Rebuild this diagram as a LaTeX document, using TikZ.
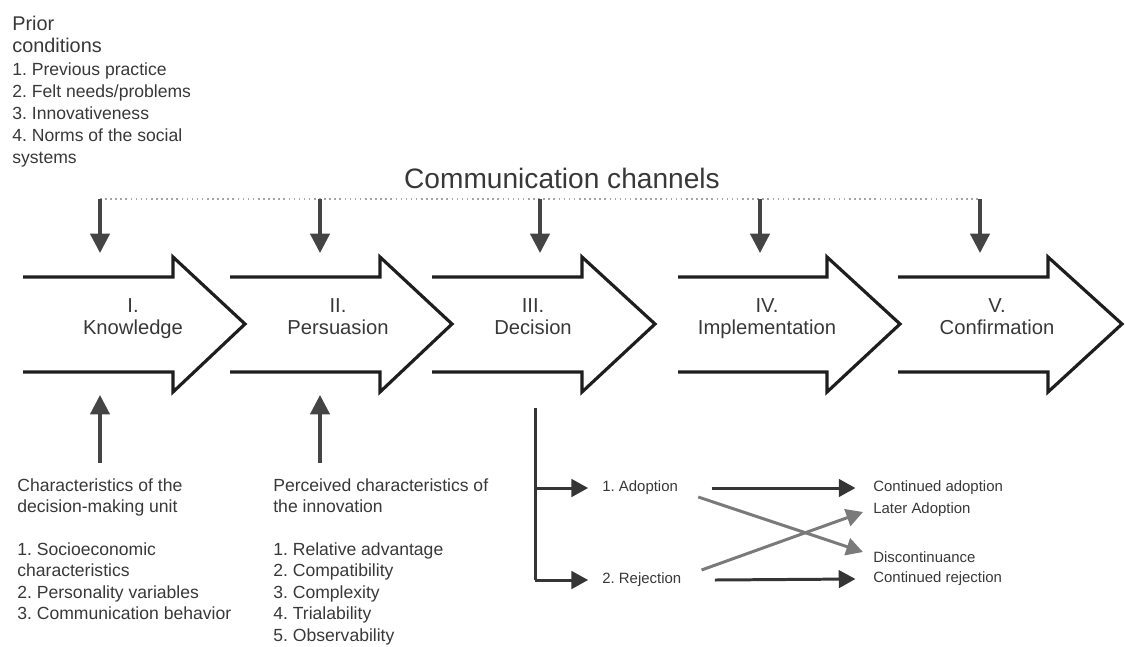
\documentclass[tikz,border=0pt]{standalone}
\usepackage{fontspec}
\setmainfont{Liberation Sans}
\usetikzlibrary{arrows.meta}
\definecolor{outline}{HTML}{1E1E1E}
\definecolor{chanarrow}{HTML}{444444}
\definecolor{crossgray}{HTML}{7A7A7A}
\definecolor{txt}{HTML}{383838}
\frenchspacing

\tikzset{
  stagearrow/.style={draw=outline, line width=1.8pt},
  stage/.style={txt, align=center, inner sep=0pt, anchor=north, font=\fontsize{11.5}{12.5}\selectfont},
  chan/.style={chanarrow, line width=1.8pt, -{Triangle[width=11pt,length=11pt]}},
  flow/.style={outline!90, line width=1.7pt, -{Triangle[width=10pt,length=9.5pt]}},
  cross/.style={crossgray, line width=1.7pt, -{Triangle[width=10pt,length=9.5pt]}},
  block/.style={txt, align=left, inner sep=0pt, anchor=north west, font=\fontsize{10}{12.2}\selectfont},
  small/.style={txt, inner sep=0pt, anchor=west, font=\fontsize{8.5}{10}\selectfont}
}

\begin{document}
\begin{tikzpicture}[x=0.02cm, y=-0.02cm]
    \useasboundingbox (0,0) rectangle (1125,646);
    \begin{scope}
        % prior conditions
        \node[block, font=\fontsize{10}{12.6}\selectfont] (prior) at (12,16) {{\fontsize{11.3}{12.6}\selectfont Prior}\\{\fontsize{11.3}{12.6}\selectfont conditions}\\1. Previous practice\\2. Felt needs/problems\\3. Innovativeness\\4. Norms of the social\\systems};

        % communication channels
        \node[txt, font=\fontsize{16}{18}\selectfont] (comm) at (562,178) {Communication channels};
        \coordinate (cc1) at (100,199);
        \coordinate (cc2) at (320,199);
        \coordinate (cc3) at (540,199);
        \coordinate (cc4) at (760,199);
        \coordinate (cc5) at (980,199);
        \coordinate (in1) at (100,253);
        \coordinate (in2) at (320,253);
        \coordinate (in3) at (540,253);
        \coordinate (in4) at (760,253);
        \coordinate (in5) at (980,253);
        \draw[gray!70, line width=0.9pt, dotted] (cc1) -- (cc5);
        \draw[chan] (cc1) -- (in1);
        \draw[chan] (cc2) -- (in2);
        \draw[chan] (cc3) -- (in3);
        \draw[chan] (cc4) -- (in4);
        \draw[chan] (cc5) -- (in5);

        % the five stages
        \draw[stagearrow] (23,277) -- (173,277) -- (173,257) -- (245,324) -- (173,392) -- (173,372) -- (23,372);
        \draw[stagearrow] (230,277) -- (380,277) -- (380,257) -- (452,324) -- (380,392) -- (380,372) -- (230,372);
        \draw[stagearrow] (432,277) -- (582,277) -- (582,257) -- (655,324) -- (582,392) -- (582,372) -- (432,372);
        \draw[stagearrow] (678,277) -- (827,277) -- (827,257) -- (900,324) -- (827,392) -- (827,372) -- (678,372);
        \draw[stagearrow] (898,277) -- (1048,277) -- (1048,257) -- (1122,324) -- (1048,392) -- (1048,372) -- (898,372);

        \node[stage] (know) at (133,298) {I.\\Knowledge};
        \node[stage] (pers) at (338,298) {II.\\Persuasion};
        \node[stage] (deci) at (533,298) {III.\\Decision};
        \node[stage] (impl) at (767,298) {IV.\\Implementation};
        \node[stage] (conf) at (997,298) {V.\\Confirmation};

        % characteristics below
        \coordinate (up1) at (100,463);
        \coordinate (up2) at (320,463);
        \coordinate (kn1) at (100,395);
        \coordinate (kn2) at (320,395);
        \draw[chan] (up1) -- (kn1);
        \draw[chan] (up2) -- (kn2);

        \node[block] (unit) at (17,478) {Characteristics of the\\decision-making unit\\[12.2pt]1. Socioeconomic\\characteristics\\2. Personality variables\\3. Communication behavior};
        \node[block] (innov) at (273,478) {Perceived characteristics of\\the innovation\\[12.2pt]1. Relative advantage\\2. Compatibility\\3. Complexity\\4. Trialability\\5. Observability};

        % decision outcomes
        \coordinate (dtop) at (535,408);
        \coordinate (b1) at (535,488);
        \coordinate (b2) at (535,580);
        \node[small] (adopt) at (602,488) {1. Adoption};
        \node[small] (reject) at (602,580) {2. Rejection};
        \node[small] (contad) at (873,488) {Continued adoption};
        \node[small] (later) at (873,510) {Later Adoption};
        \node[small] (discont) at (873,557) {Discontinuance};
        \node[small] (contrej) at (873,579) {Continued rejection};

        \draw[outline!90, line width=1.7pt] (dtop) -- (b2);
        \draw[flow, shorten >=7.9pt] (b1) -- (adopt.west);
        \draw[flow, shorten >=7.9pt] (b2) -- (reject.west);
        \draw[flow] ([xshift=19]adopt.east) -- ([xshift=-10]contad.west);
        \draw[flow] ([xshift=19]reject.east) -- ([xshift=-10]contrej.west);
        \draw[cross] ([shift={(20,9)}]adopt.east) -- ([shift={(-10,-5)}]discont.west);
        \draw[cross] ([shift={(20,-10)}]reject.east) -- ([shift={(-10,2)}]later.west);
    \end{scope}
\end{tikzpicture}
\end{document}
